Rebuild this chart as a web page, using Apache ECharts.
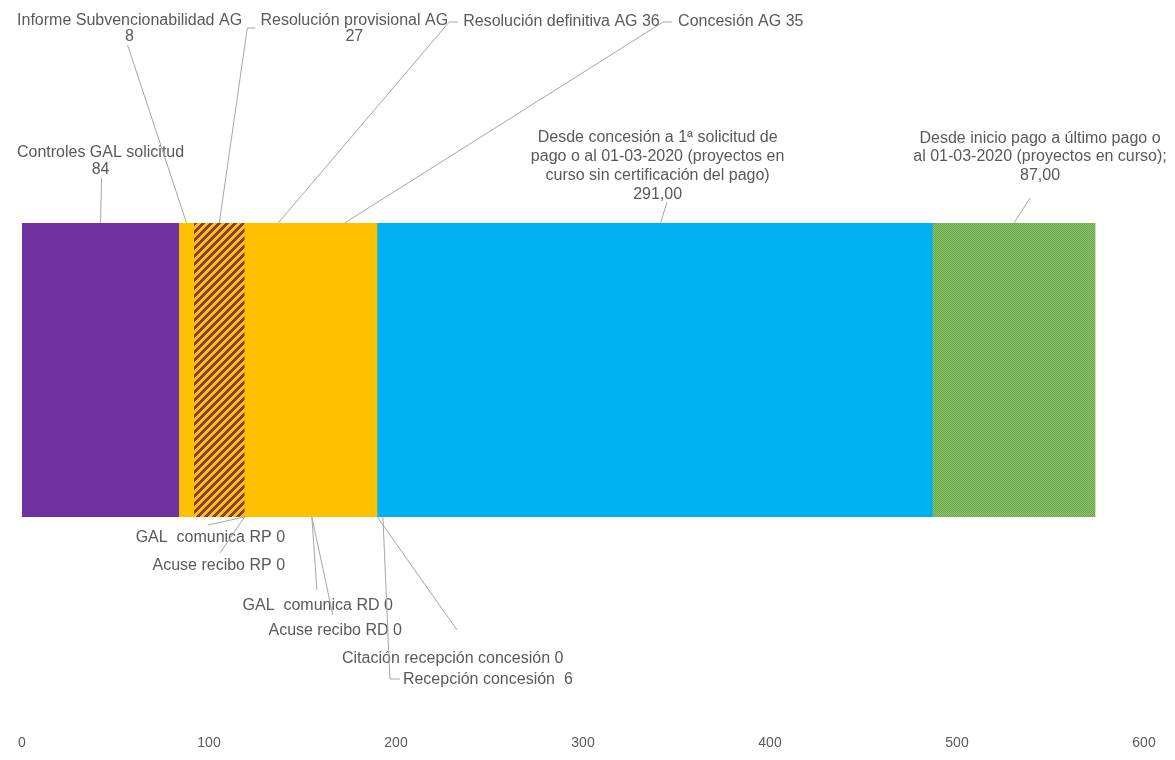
<!DOCTYPE html>
<html>
<head>
<meta charset="utf-8">
<script src="https://cdn.jsdelivr.net/npm/echarts@6/dist/echarts.min.js"></script>
<style>
html,body{margin:0;padding:0;background:#ffffff;}
#chart{width:1175px;height:760px;}
</style>
</head>
<body>
<div id="chart"></div>
<script>
// ---------- DATA ----------
const segmentNames = [
  'Controles GAL solicitud',
  'Informe Subvencionabilidad AG',
  'Resolución provisional AG',
  'GAL  comunica RP',
  'Acuse recibo RP',
  'Resolución definitiva AG',
  'GAL  comunica RD',
  'Acuse recibo RD',
  'Concesión AG',
  'Citación recepción concesión',
  'Recepción concesión',
  'Desde concesión a 1ª solicitud de\npago o al 01-03-2020 (proyectos en\ncurso sin certificación del pago)',
  'Desde inicio pago a último pago o\nal 01-03-2020 (proyectos en curso);'
];
const segmentValues = [84, 8, 27, 0, 0, 36, 0, 0, 35, 0, 6, 291, 87];
const valueDecimals = [0, 0, 0, 0, 0, 0, 0, 0, 0, 0, 0, 2, 2];
const nameValueSeparators = ['\n', '\n', '\n', ' ', ' ', ' ', ' ', ' ', ' ', ' ', '  ', '\n', '\n'];
const xTickMin = 0, xTickMax = 600, xTickStep = 100;

// ---------- STYLE / LAYOUT ----------
const fillKeys = ['purple','orange','hatch','orange','orange','orange','orange','orange','orange','orange','blue','blue','green'];

// label placement relative to the segment's anchor point on the bar edge
const labelLayout = [
  {side:'top',    tx:0,     ty:-79,   align:'center', lh:17, lx:1,     ly:-45},
  {side:'top',    tx:-57,   ty:-210,  align:'center', lh:16, lx:-59,   ly:-178},
  {side:'top',    tx:135,   ty:-210,  align:'center', lh:16, lx:28,    ly:-195, stub:8},
  {side:'bottom', tx:40.5,  ty:12.5,  align:'right',  lh:17, lx:-36.5, ly:8},
  {side:'bottom', tx:40.5,  ty:40.5,  align:'right',  lh:17, lx:-24.5, ly:36},
  {side:'top',    tx:185,   ty:-210,  align:'left',   lh:17, lx:171,   ly:-201, stub:9},
  {side:'bottom', tx:81,    ty:80,    align:'right',  lh:17, lx:5,     ly:73},
  {side:'bottom', tx:90,    ty:105,   align:'right',  lh:17, lx:21,    ly:98},
  {side:'top',    tx:333.5, ty:-210,  align:'left',   lh:17, lx:318.5, ly:-201, stub:9},
  {side:'bottom', tx:-35.3, ty:133,   align:'left',   lh:17, lx:79.7,  ly:113},
  {side:'bottom', tx:20,    ty:154.5, align:'left',   lh:17, lx:7,     ly:162, stub:10},
  {side:'top',    tx:-3,    ty:-94.5, align:'center', lh:19, lx:6.4,   ly:-21},
  {side:'top',    tx:26,    ty:-94,   align:'center', lh:18.5, lx:16,  ly:-25}
];

function makeHatch() {
  const P = 8, c = document.createElement('canvas');
  c.width = P; c.height = P;
  const ctx = c.getContext('2d');
  const img = ctx.createImageData(P, P);
  for (let y = 0; y < P; y++) for (let x = 0; x < P; x++) {
    const stripe = ((x + y) % P) < 4;
    const col = stripe ? [0x88, 0x3d, 0x4c] : [0xff, 0xc0, 0x00];
    const k = (y * P + x) * 4;
    img.data[k] = col[0]; img.data[k+1] = col[1]; img.data[k+2] = col[2]; img.data[k+3] = 255;
  }
  ctx.putImageData(img, 0, 0);
  return c;
}
function makeGreen() {
  const c = document.createElement('canvas');
  c.width = 2; c.height = 2;
  const ctx = c.getContext('2d');
  ctx.fillStyle = '#8cc170'; ctx.fillRect(0, 0, 2, 2);
  ctx.fillStyle = '#6aa84a'; ctx.fillRect(0, 0, 1, 1); ctx.fillRect(1, 1, 1, 1);
  return c;
}
const fills = {
  purple: '#7030A0',
  orange: '#FFC000',
  blue: '#00B0F0',
  hatch: {image: makeHatch(), repeat: 'repeat'},
  green: {image: makeGreen(), repeat: 'repeat'}
};

// ---------- BUILD ----------
const starts = [];
let acc = 0;
segmentValues.forEach(v => { starts.push(acc); acc += v; });

function fmt(v, d) { return v.toFixed(d).replace('.', ','); }
const labelTexts = segmentNames.map((n, i) => n + nameValueSeparators[i] + fmt(segmentValues[i], valueDecimals[i]));
const segData = segmentValues.map((v, i) => [starts[i], starts[i] + v, i, 0]);

// stacked bar segments (drawn with a tiny overlap so same-coloured neighbours show no seam)
const barSeries = {
  type: 'custom',
  silent: true,
  z: 2,
  encode: {x: [0, 1], y: 3},
  data: segData,
  renderItem: function (params, api) {
    const i = api.value(2);
    const s = api.value(0), e = api.value(1);
    if (e <= s) return null;
    const p0 = api.coord([s, 0]);
    const p1 = api.coord([e, 0]);
    const band = api.size([0, 1])[1];
    const isLast = i === segmentValues.length - 1;
    return {
      type: 'rect',
      shape: {x: p0[0], y: p0[1] - band / 2, width: (p1[0] - p0[0]) + (isLast ? 0 : 0.6), height: band},
      style: {fill: fills[fillKeys[i]]}
    };
  }
};

const labelSeries = {
  type: 'custom',
  silent: true,
  clip: false,
  z: 10,
  encode: {x: [0, 1], y: 3},
  data: segData,
  renderItem: function (params, api) {
    const i = api.value(2);
    const mid = (api.value(0) + api.value(1)) / 2;
    const p = api.coord([mid, 0]);
    const band = api.size([0, 1])[1];
    const L = labelLayout[i];
    const ax = p[0];
    const ay = L.side === 'top' ? p[1] - band / 2 : p[1] + band / 2;
    const pts = [[ax, ay], [ax + L.lx, ay + L.ly]];
    if (L.stub) pts.push([ax + L.lx + L.stub, ay + L.ly]);
    return {
      type: 'group',
      children: [
        {type: 'polyline', shape: {points: pts}, style: {stroke: '#a6a6a6', lineWidth: 1, fill: null}},
        {type: 'text', x: ax + L.tx, y: ay + L.ty,
          style: {text: labelTexts[i], fill: '#595959', fontSize: 16,
            fontFamily: '"Liberation Sans", Arial, sans-serif',
            align: L.align, verticalAlign: 'top', lineHeight: L.lh}}
      ]
    };
  }
};

const chart = echarts.init(document.getElementById('chart'), null, {renderer: 'canvas'});
chart.setOption({
  animation: false,
  backgroundColor: '#ffffff',
  grid: {left: 22, right: 31, top: 223, bottom: 243, containLabel: false},
  xAxis: {
    type: 'value', min: xTickMin, max: xTickMax, interval: xTickStep,
    axisLine: {show: false}, axisTick: {show: false}, splitLine: {show: false},
    axisLabel: {color: '#595959', fontSize: 14, margin: 219,
      fontFamily: '"Liberation Sans", Arial, sans-serif'}
  },
  yAxis: {
    type: 'category', data: [''],
    axisLine: {show: false}, axisTick: {show: false}, axisLabel: {show: false}, splitLine: {show: false}
  },
  series: [barSeries, labelSeries]
});
</script>
</body>
</html>
